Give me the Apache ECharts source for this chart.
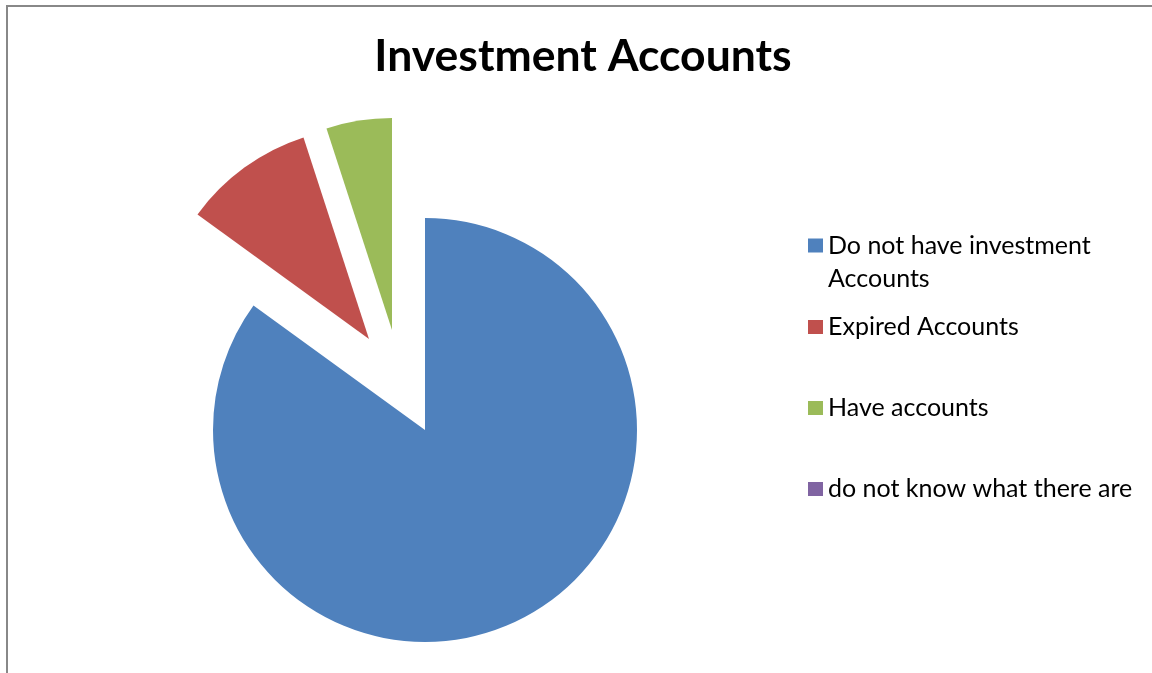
<!DOCTYPE html>
<html>
<head>
<meta charset="utf-8">
<script src="https://cdn.jsdelivr.net/npm/echarts@6/dist/echarts.min.js"></script>
<style>
  html, body { margin: 0; padding: 0; background: #fff; }
  #chart { width: 1152px; height: 673px; }
</style>
</head>
<body>
<div id="chart"></div>
<script>
// ---- data ----
const categories = [
  'Do not have investment Accounts',
  'Expired Accounts',
  'Have accounts',
  'do not know what there are'
];
const values = [85, 10, 5, 0];
const titleText = 'Investment Accounts';

// ---- styles / layout ----
const colors = ['#4F81BD', '#C0504D', '#9BBB59', '#8064A2'];
const FONT = 'Lato';
const LEGEND_FONT_SIZE = 25;
const RADIUS = 212;
// one pie layer per drawn position: which slices it shows, and its centre
const layers = [
  { show: [0, 3], center: [425, 430] },   // main body
  { show: [1],    center: [369, 339] },   // exploded slice
  { show: [2],    center: [392, 330] }    // exploded slice
];

const chart = echarts.init(document.getElementById('chart'), null, { renderer: 'canvas' });

const series = layers.map((layer, li) => ({
  type: 'pie',
  name: 'layer' + li,
  radius: [0, RADIUS],
  center: layer.center,
  startAngle: 90,
  clockwise: true,
  silent: true,
  label: { show: false },
  labelLine: { show: false },
  emphasis: { disabled: true },
  itemStyle: { borderWidth: 0 },
  data: categories.map((name, i) => ({
    name: name,
    value: values[i],
    itemStyle: { color: layer.show.indexOf(i) >= 0 ? colors[i] : 'rgba(0,0,0,0)' }
  }))
}));

const legendItem = (i) => ({ name: categories[i], itemStyle: { color: colors[i], opacity: 1 } });

const option = {
  animation: false,
  backgroundColor: '#ffffff',
  title: {
    text: titleText,
    left: 578,
    top: 29,
    textAlign: 'center',
    textStyle: { fontFamily: FONT, fontWeight: 'bold', fontSize: 44.5, color: '#000' }
  },
  legend: [
    {
      // wrapped entry: an empty leading line keeps the marker beside the first text line
      orient: 'vertical',
      left: 803,
      top: 191,
      icon: 'rect',
      itemWidth: 15,
      itemHeight: 14,
      selectedMode: false,
      data: [legendItem(0)],
      formatter: (name) => '\n' + name,
      textStyle: {
        fontFamily: FONT, fontSize: LEGEND_FONT_SIZE, color: '#000',
        lineHeight: 33, width: 305, overflow: 'break'
      }
    },
    {
      orient: 'vertical',
      left: 803,
      top: 307,
      icon: 'rect',
      itemWidth: 15,
      itemHeight: 14,
      itemGap: 51,
      selectedMode: false,
      data: [legendItem(1), legendItem(2), legendItem(3)],
      textStyle: { fontFamily: FONT, fontSize: LEGEND_FONT_SIZE, color: '#000', lineHeight: 30 }
    }
  ],
  graphic: [
    {
      type: 'rect',
      silent: true,
      shape: { x: 7, y: 6, width: 1200, height: 720 },
      style: { fill: 'none', stroke: '#888888', lineWidth: 2 }
    }
  ],
  series: series
};

chart.setOption(option);
</script>
</body>
</html>
